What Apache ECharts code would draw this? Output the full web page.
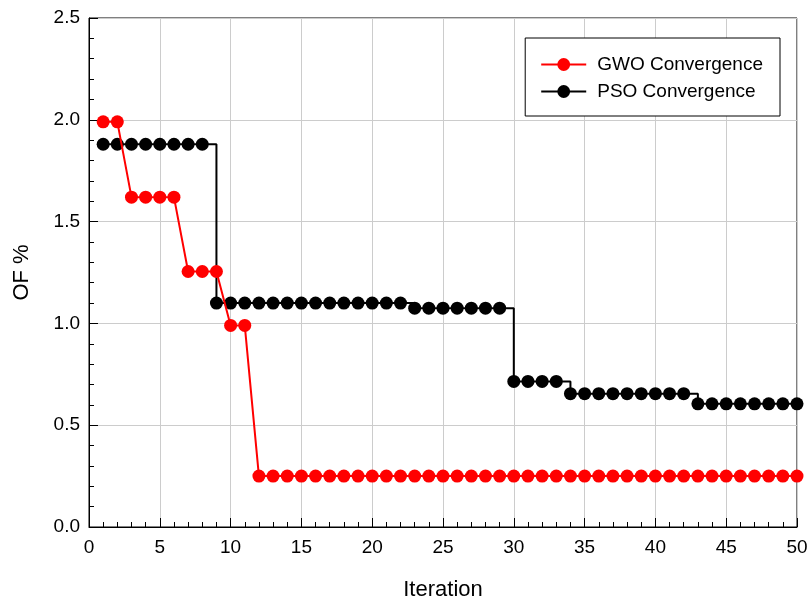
<!DOCTYPE html>
<html>
<head>
<meta charset="utf-8">
<script src="https://cdn.jsdelivr.net/npm/echarts@6/dist/echarts.min.js"></script>
<style>
html,body{margin:0;padding:0;background:#fff;}
#chart{width:811px;height:606px;}
</style>
</head>
<body>
<div id="chart"></div>
<script>
var iterations = [];
for (var i = 1; i <= 50; i++) iterations.push(i);

var gwoValues = [1.99, 1.99, 1.62, 1.62, 1.62, 1.62, 1.255, 1.255, 1.255, 0.99,
  0.99, 0.25, 0.25, 0.25, 0.25, 0.25, 0.25, 0.25, 0.25, 0.25,
  0.25, 0.25, 0.25, 0.25, 0.25, 0.25, 0.25, 0.25, 0.25, 0.25,
  0.25, 0.25, 0.25, 0.25, 0.25, 0.25, 0.25, 0.25, 0.25, 0.25,
  0.25, 0.25, 0.25, 0.25, 0.25, 0.25, 0.25, 0.25, 0.25, 0.25];

var psoValues = [1.88, 1.88, 1.88, 1.88, 1.88, 1.88, 1.88, 1.88, 1.10, 1.10,
  1.10, 1.10, 1.10, 1.10, 1.10, 1.10, 1.10, 1.10, 1.10, 1.10,
  1.10, 1.10, 1.075, 1.075, 1.075, 1.075, 1.075, 1.075, 1.075, 0.715,
  0.715, 0.715, 0.715, 0.655, 0.655, 0.655, 0.655, 0.655, 0.655, 0.655,
  0.655, 0.655, 0.605, 0.605, 0.605, 0.605, 0.605, 0.605, 0.605, 0.605];

var seriesNames = ['GWO Convergence', 'PSO Convergence'];
var xTitle = 'Iteration';
var yTitle = 'OF %';

function pairs(vals) {
  return iterations.map(function (x, k) { return [x, vals[k]]; });
}

var font = 'Liberation Sans, Arial, sans-serif';
var chart = echarts.init(document.getElementById('chart'));
chart.setOption({
  animation: false,
  backgroundColor: '#fff',
  grid: {left: 89, right: 14, top: 18, bottom: 77, show: true, borderColor: '#000', borderWidth: 1},
  legend: {
    orient: 'vertical', right: 31, top: 38,
    data: seriesNames,
    backgroundColor: '#fff',
    borderColor: '#000', borderWidth: 1,
    padding: [17, 17, 15, 15],
    itemGap: 8, itemWidth: 45, itemHeight: 16,
    textStyle: {fontFamily: font, fontSize: 19, color: '#000', padding: [0, 0, 0, 6]}
  },
  xAxis: {
    type: 'value', min: 0, max: 50, interval: 5,
    name: xTitle, nameLocation: 'middle', nameGap: 52,
    nameTextStyle: {fontFamily: font, fontSize: 22, color: '#000'},
    axisLine: {lineStyle: {color: '#000', width: 1}},
    axisTick: {inside: true, length: 9, lineStyle: {color: '#000'}},
    minorTick: {show: true, splitNumber: 5, length: 5, lineStyle: {color: '#000'}},
    axisLabel: {fontFamily: font, fontSize: 19, color: '#000', margin: 11},
    splitLine: {show: true, lineStyle: {color: '#cccccc', width: 1}}
  },
  yAxis: {
    type: 'value', min: 0, max: 2.5, interval: 0.5,
    name: yTitle, nameLocation: 'middle', nameGap: 56, nameRotate: 90,
    nameTextStyle: {fontFamily: font, fontSize: 22, color: '#000'},
    axisLine: {show: true, lineStyle: {color: '#000', width: 1}},
    axisTick: {show: true, inside: true, length: 9, lineStyle: {color: '#000'}},
    minorTick: {show: true, splitNumber: 5, length: 5, lineStyle: {color: '#000'}},
    axisLabel: {fontFamily: font, fontSize: 19, color: '#000', margin: 9,
      formatter: function (v) { return v.toFixed(1); }},
    splitLine: {show: true, lineStyle: {color: '#cccccc', width: 1}}
  },
  series: [
    {
      name: seriesNames[0], type: 'line', data: pairs(gwoValues),
      symbol: 'circle', symbolSize: 13,
      itemStyle: {color: '#ff0000'},
      lineStyle: {color: '#ff0000', width: 2},
      z: 3
    },
    {
      name: seriesNames[1], type: 'line', data: pairs(psoValues), step: 'end',
      symbol: 'circle', symbolSize: 13,
      itemStyle: {color: '#000000'},
      lineStyle: {color: '#000000', width: 2},
      z: 2
    }
  ]
});
</script>
</body>
</html>
